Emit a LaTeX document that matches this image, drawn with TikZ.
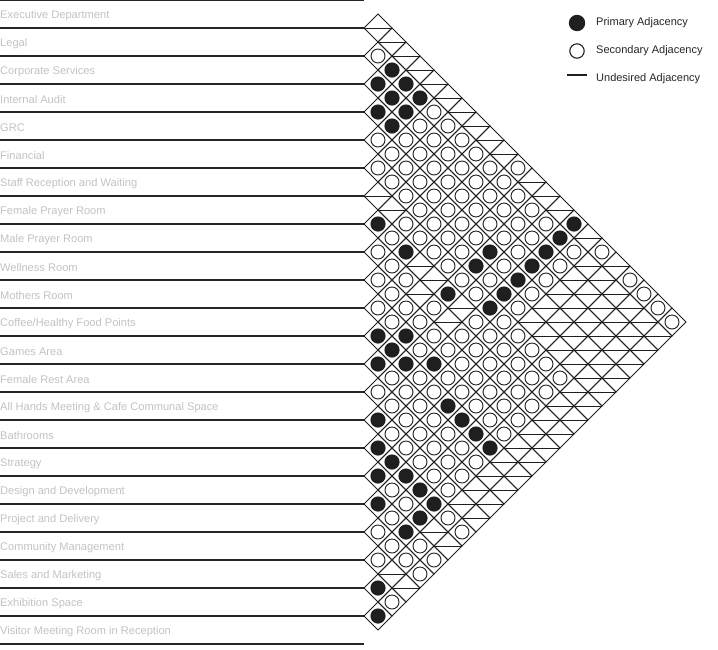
\documentclass[tikz,border=0pt]{standalone}
\usepackage{fontspec}
\setmainfont{Liberation Sans}
\usetikzlibrary{positioning}

% one cell of the matrix, centre in \cx,\cy
\newcommand{\cellp}{\fill[ink] (\cx,\cy) circle (7.6);}
\newcommand{\cells}{\draw[cell] (\cx,\cy) circle (7);}
\newcommand{\cellu}{\draw[cell] (\cx-14,\cy) -- (\cx+14,\cy);}

\begin{document}
\begin{tikzpicture}[x=1pt, y=-1pt,
    ink/.style={black!88},
    rowline/.style={line width=1.2pt, black!85},
    cell/.style={line width=0.9pt, black!88},
    roomlabel/.style={anchor=west, inner sep=0pt, black!24,
                      font=\fontsize{11.1}{13}\selectfont},
    keytext/.style={anchor=west, inner sep=0pt, black!85,
                    font=\fontsize{11}{13}\selectfont}]
  \useasboundingbox (0,0) rectangle (718,649);

  % room names and row rules
  \draw[rowline] (0,0) -- (364,0);
  \foreach \room [count=\i from 0] in {Executive Department, Legal,
      Corporate Services, Internal Audit, GRC, Financial,
      Staff Reception and Waiting, Female Prayer Room, Male Prayer Room,
      Wellness Room, Mothers Room, Coffee/Healthy Food Points, Games Area,
      Female Rest Area, All Hands Meeting \& Cafe Communal Space, Bathrooms,
      Strategy, Design and Development, Project and Delivery,
      Community Management, Sales and Marketing, Exhibition Space,
      Visitor Meeting Room in Reception} {
    \node[roomlabel] (r\i) at (0,28*\i+15.5) {\room};
    \draw[rowline] (0,28*\i+28) -- (364,28*\i+28);
  }

  % adjacency of room i with rooms i+1 ... 22 (p primary, s secondary, u undesired)
  \foreach \codes [count=\i from 0] in {
      {u,u,u,u,u,u,u,u,u,u,s,u,u,u,p,u,s,u,s,s,s,s},
      {s,p,p,p,s,s,s,s,s,s,s,s,s,p,s,u,u,u,u,u,u},
      {p,p,p,s,s,s,s,s,s,s,s,s,p,s,u,u,u,u,u,u},
      {p,p,s,s,s,s,s,s,s,s,s,p,s,u,u,u,u,u,u},
      {s,s,s,s,s,s,s,s,p,s,p,s,u,u,u,u,u,u},
      {s,s,s,s,s,s,s,p,s,p,s,u,u,u,u,u,u},
      {u,u,s,s,s,s,s,s,p,s,s,s,s,s,u,u},
      {p,s,p,u,u,p,u,s,s,s,s,s,s,u,u},
      {s,s,s,u,s,u,s,s,s,s,s,s,u,u},
      {s,s,s,s,s,s,s,s,s,s,s,u,u},
      {s,s,p,s,p,s,s,s,s,s,u,u},
      {p,p,p,s,s,p,p,p,p,u,u},
      {p,s,s,s,s,s,s,s,u,u},
      {s,s,s,s,s,s,s,u,u},
      {p,s,s,s,s,s,u,u},
      {p,p,p,p,p,s,s},
      {p,s,s,p,u,u},
      {p,s,p,s,s},
      {s,s,s,s},
      {s,u,u},
      {p,s},
      {p}} {
    \foreach \c [count=\k] in \codes {
      \pgfmathsetmacro\cx{364+14*\k}
      \pgfmathsetmacro\cy{14+14*(2*\i+\k)}
      \draw[cell] (\cx-14,\cy) -- (\cx,\cy-14) -- (\cx+14,\cy) -- (\cx,\cy+14) -- cycle;
      \csname cell\c\endcsname
    }
  }

  % legend
  \node[keytext] (kp) at (596,23) {Primary Adjacency};
  \node[keytext] (ks) at (596,51) {Secondary Adjacency};
  \node[keytext] (ku) at (596,79) {Undesired Adjacency};
  \fill[ink] (577,23) circle (8.2);
  \draw[cell, line width=1.1pt] (577,51) circle (7.2);
  \draw[cell, line width=1.1pt] (567,75) -- (587,75);
\end{tikzpicture}
\end{document}
